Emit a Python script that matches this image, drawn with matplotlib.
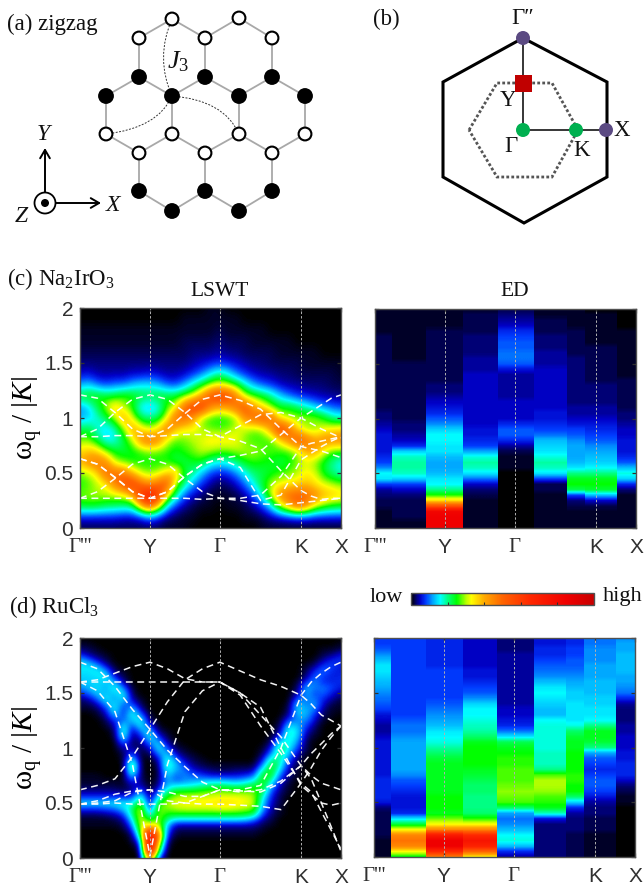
import numpy as np
import matplotlib
matplotlib.use("Agg")
import matplotlib.pyplot as plt
from matplotlib.colors import LinearSegmentedColormap, Normalize
from matplotlib.cm import ScalarMappable
from matplotlib.patches import Circle, Rectangle, Polygon, PathPatch
from matplotlib.path import Path

plt.rcParams['font.family'] = ['Liberation Sans', 'DejaVu Sans']
plt.rcParams['mathtext.fontset'] = 'custom'
plt.rcParams['mathtext.rm'] = 'Liberation Serif'
plt.rcParams['mathtext.it'] = 'Liberation Serif:italic'
plt.rcParams['mathtext.bf'] = 'Liberation Serif:bold'
SERIF = ['Liberation Serif', 'DejaVu Serif']

# ---------- chart data ----------
tick_pos = [0.0, 0.268, 0.536, 0.847, 1.0]
tick_txt = ["Γ'''", "Y", "Γ", "K", "X"]
y_ticks = [0, 0.5, 1, 1.5, 2]
y_txt = ["0", "0.5", "1", "1.5", "2"]

band_q = [0, .067, .134, .201, .268, .335, .402, .469, .536, .614, .692, .77, .847, .886, .925, .963, 1]
# Na2IrO3 dispersion curves
na_1 = [1.21, 1.18, 1.05, .9, .83, .9, 1.04, 1.17, 1.21, 1.16, 1.08, .9, .74, .72, .7, .67, .64]
na_2 = [.83, .9, 1.05, 1.17, 1.21, 1.17, 1.05, .9, .83, .93, 1.03, 1.05, 1.0, .95, .9, .86, .82]
na_3 = [.83, .83, .84, .84, .83, .84, .85, .85, .83, .79, .72, .52, .34, .29, .26, .27, .27]
na_4 = [.63, .58, .46, .33, .27, .33, .47, .58, .63, .55, .25, .3, .62, .68, .74, .79, .83]
na_5 = [.27, .33, .45, .58, .63, .58, .45, .33, .27, .27, .3, .47, .74, .77, .79, .81, .83]
na_6 = [.27, .27, .27, .27, .27, .27, .27, .26, .27, .25, .22, .21, .23, .24, .25, .26, .27]
na_7 = [.63, .58, .46, .33, .27, .33, .47, .58, .63, .66, .7, .85, 1.0, 1.06, 1.12, 1.18, 1.21]
na_bands = [na_1, na_2, na_3, na_4, na_5, na_6, na_7]
# RuCl3 dispersion curves
ru_1 = [1.78, 1.72, 1.56, 1.35, 1.17, .98, .83, .69, .62, .62, .66, 1.0, 1.48, 1.6, 1.68, 1.74, 1.78]
ru_2 = [1.6, 1.52, 1.33, .85, .02, .85, 1.33, 1.52, 1.6, 1.48, 1.2, .95, .68, .6, .42, .25, .08]
ru_3 = [.49, .49, .5, .49, .49, .49, .5, .49, .49, .48, .47, .44, .68, .82, .98, 1.1, 1.2]
ru_4 = [.62, .66, .72, .92, 1.17, 1.42, 1.62, 1.72, 1.78, 1.7, 1.62, 1.56, 1.48, 1.4, 1.3, 1.25, 1.2]
ru_5 = [.49, .52, .58, .61, .62, .52, .5, .56, .62, .6, .62, .7, .84, .95, 1.04, 1.13, 1.2]
ru_6 = [1.6, 1.6, 1.6, 1.6, 1.6, 1.6, 1.6, 1.6, 1.6, 1.5, 1.3, 1.1, .84, .75, .68, .65, .62]
ru_7 = [1.6, 1.62, 1.68, 1.74, 1.78, 1.72, 1.63, 1.6, 1.6, 1.5, 1.37, 1.0, .66, .58, .5, .48, .5]
ru_8 = [.49, .5, .52, .6, .62, .6, .56, .56, .62, .61, .6, .68, .84, .72, .5, .28, .06]
ru_bands = [ru_1, ru_2, ru_3, ru_4, ru_5, ru_6, ru_7, ru_8]

# LSWT intensity of Na2IrO3: one list per q (q=j/30), energies 0, 0.1, ... 2.0
na_lswt = [
 [2,6,24,28,25,28,40,35,28,22,12,11,24,12,5,3,2,1,1,0,0],
 [2,6,25,29,27,30,45,38,28,23,14,14,26,14,6,3,2,1,1,0,0],
 [2,6,24,30,30,36,48,36,22,17,17,22,26,10,4,3,2,1,1,0,0],
 [2,6,22,30,34,50,45,28,15,14,22,30,24,8,4,3,2,1,1,0,0],
 [2,6,21,31,45,50,30,24,16,17,30,38,24,10,4,3,2,1,1,0,0],
 [2,5,20,32,55,48,27,23,22,28,42,30,27,10,4,3,2,1,1,0,0],
 [2,5,20,40,60,38,25,24,30,42,32,25,26,13,5,3,2,1,1,0,0],
 [2,6,38,62,50,30,25,26,45,36,22,14,24,15,5,3,2,1,1,0,0],
 [2,10,50,75,42,28,25,28,50,30,20,12,23,15,6,3,2,1,1,0,0],
 [2,6,36,60,50,30,25,27,46,36,22,15,25,13,5,3,2,1,1,0,0],
 [1,3,15,35,55,36,25,26,32,48,32,26,24,9,4,3,2,1,1,0,0],
 [1,2,7,20,30,40,22,24,27,38,50,32,24,8,4,3,2,1,1,0,0],
 [1,1,4,9,20,24,22,26,28,33,50,50,28,12,5,3,2,2,1,1,0],
 [0,1,2,5,12,20,24,28,30,33,42,60,32,18,7,4,3,2,1,1,0],
 [0,0,1,3,7,13,24,31,32,30,28,60,42,24,10,5,3,2,1,1,0],
 [0,0,1,1,4,8,18,30,35,28,25,45,55,30,15,6,3,2,1,1,1],
 [0,0,0,1,2,6,16,28,35,27,24,40,60,33,20,7,4,3,2,1,1],
 [0,0,1,1,3,7,17,28,35,28,25,42,58,30,16,6,3,2,1,1,0],
 [0,0,1,2,5,11,20,30,33,32,28,50,45,26,10,5,3,2,1,1,0],
 [0,1,2,4,10,16,25,30,28,30,45,55,30,18,7,4,2,2,1,0,0],
 [0,1,4,9,17,21,26,30,26,28,50,42,27,12,5,3,2,1,1,0,0],
 [1,2,8,18,24,22,25,28,26,30,55,35,24,9,4,3,2,1,1,0,0],
 [1,4,15,32,30,24,24,27,26,42,50,28,20,7,4,2,2,1,0,0,0],
 [1,5,30,45,33,26,22,26,35,60,33,24,14,5,3,2,1,1,0,0,0],
 [1,6,40,50,34,28,24,26,45,50,30,25,10,4,3,2,1,1,0,0,0],
 [1,7,50,52,36,30,28,30,55,35,29,22,7,4,2,2,1,0,0,0,0],
 [1,7,45,50,38,34,32,40,50,28,30,18,6,3,2,1,1,0,0,0,0],
 [1,6,33,45,35,32,28,42,42,28,30,14,5,3,2,1,1,0,0,0,0],
 [1,6,28,40,32,24,24,33,45,32,26,11,4,3,2,1,0,0,0,0,0],
 [1,6,25,38,30,20,19,27,45,34,20,9,4,2,2,1,0,0,0,0,0],
 [1,6,24,36,28,17,16,26,46,36,18,8,3,2,1,1,0,0,0,0,0],
]
# LSWT intensity of RuCl3: one list per q (q=j/30), energies 0, 0.05, ...; trailing zeros omitted
ru_lswt = [
 [0,0,0,0,0,0,1,1,3,8,14,8,4,2,1,1,0,0,0,0,0,0,0,0,0,0,0,1,2,3,7,11,13,14,15,15,13,7,3,1,0],
 [0,0,0,0,0,0,1,1,3,8,14,8,4,2,1,1,0,0,0,0,0,0,0,0,0,0,0,1,2,5,10,13,14,14,15,15,10,4,2,1],
 [0,0,0,0,0,0,1,1,3,8,14,8,4,2,1,1,0,0,0,0,0,0,0,0,0,0,1,2,5,10,14,15,14,15,16,12,5,2,1],
 [0,0,0,0,0,0,1,1,4,9,14,8,4,2,1,0,0,0,0,0,0,0,0,0,1,2,4,7,12,16,13,12,14,16,12,5,2,1],
 [0,0,0,0,0,0,1,2,5,10,15,8,4,2,1,0,0,0,0,0,0,0,1,2,4,8,14,17,15,11,14,17,13,6,2,1],
 [0,0,0,0,0,1,2,4,8,14,16,8,3,1,1,0,0,0,1,2,5,11,18,20,17,10,7,6,10,16,16,10,4,2,1],
 [0,0,0,1,2,5,10,15,20,20,14,8,4,4,8,16,24,25,16,9,4,2,2,3,7,13,17,15,9,4,2,1],
 [0,1,4,10,20,28,33,34,33,33,28,20,12,6,3,2,1,1,1,1,2,3,6,11,16,17,11,5,2,1],
 [50,75,85,85,80,60,33,22,12,5,2,1,1,0,0,0,0,0,0,2,5,11,16,15,8,3,1],
 [8,20,30,40,48,40,33,30,29,28,24,16,9,4,2,1,1,2,5,11,16,14,8,3,1],
 [0,0,1,3,6,10,14,20,25,28,30,26,20,14,13,15,18,20,18,14,9,4,2,1],
 [0,0,0,0,1,2,5,15,25,30,32,30,25,17,9,9,12,13,10,5,2,1],
 [0,0,0,0,1,2,5,15,25,31,33,31,26,17,11,11,10,8,4,2,1],
 [0,0,0,0,1,2,5,15,25,31,33,32,26,18,12,9,6,3,2,1],
 [0,0,0,0,1,2,5,15,25,31,34,32,27,20,13,8,4,2,1],
 [0,0,0,0,1,2,5,15,25,31,34,32,28,22,14,6,3,1],
 [0,0,0,0,1,2,5,15,25,32,35,33,29,23,14,6,2,1],
 [0,0,0,0,1,2,5,15,25,32,35,33,28,22,13,6,2,1],
 [0,0,0,0,1,2,5,15,25,31,34,33,28,21,12,6,3,1],
 [0,0,0,0,1,2,5,14,24,30,33,32,28,22,14,7,3,1],
 [0,0,0,0,1,2,4,11,22,28,31,30,28,24,17,9,4,1],
 [0,0,0,0,0,1,2,4,8,12,14,17,22,25,26,25,18,10,5,2,1],
 [0,0,0,0,0,0,1,2,3,4,5,6,8,12,18,24,26,25,19,11,6,3,1],
 [0,0,0,0,0,0,0,0,1,1,2,2,3,4,6,9,14,18,20,22,22,16,9,4,2,1],
 [0,0,0,0,0,0,0,0,0,0,0,0,1,1,2,3,4,6,9,13,16,18,18,19,15,9,4,2,1],
 [0,0,0,0,0,0,0,0,0,0,0,0,0,0,0,1,1,2,3,5,8,11,14,15,13,11,13,15,14,9,4,2,1],
 [0,0,0,0,0,0,0,0,0,0,0,0,0,0,0,0,0,0,0,1,2,2,3,5,8,11,13,12,10,11,13,13,8,3,2,1],
 [0,0,0,0,0,0,0,0,0,0,0,0,0,0,0,0,0,0,0,0,0,0,1,2,3,5,7,11,12,10,8,10,11,10,7,3,1],
 [0,0,0,0,0,0,0,0,0,0,0,0,0,0,0,0,0,0,0,0,0,0,0,0,0,1,2,3,5,7,10,10,7,8,10,8,4,2,1],
 [0,0,0,0,0,0,0,0,0,0,0,0,0,0,0,0,0,0,0,0,0,0,0,0,0,0,1,1,2,4,6,8,7,6,7,8,7,3,1],
 [0,0,0,0,0,0,0,0,0,0,0,0,0,0,0,0,0,0,0,0,0,0,0,0,0,0,0,1,1,2,4,6,7,7,6,6,7,6,2,1],
]
# ED spectra: column q edges, one list per column, energies 0, 0.05, ... 2.0
na_ed_edges = [0, .064, .195, .339, .471, .611, .735, .803, .927, 1]
na_ed = [
 [1,1,1,1,2,2,3,4,8,15,16,11,8,7,6,6,6,6,5,4,3,3,2,2,2,2,2,2,2,2,2,2,2,2,2,2,1,1,1,1,1],
 [1,1,2,2,2,2,3,5,8,14,18,19,19,18,14,7,5,4,3,3,2,2,2,2,2,2,2,2,2,2,2,1,1,1,1,1,1,1,1,1,1],
 [85,85,85,82,55,36,26,20,16,15,13,12,12,13,15,15,16,16,14,11,9,7,6,5,4,3,3,2,2,2,2,2,2,2,2,2,2,1,1,1,1],
 [1,1,1,1,1,1,2,3,5,10,15,18,19,17,12,8,7,6,6,5,5,5,5,5,5,5,5,5,5,4,4,4,3,3,3,3,2,2,2,2,1],
 [0,0,0,0,0,0,0,0,0,0,0,1,1,1,2,4,7,9,9,7,5,5,5,5,4,4,4,4,4,6,9,10,10,9,9,8,7,5,4,3,2],
 [1,1,1,1,1,1,1,2,2,8,15,18,19,17,15,14,13,10,8,7,6,6,5,5,5,5,5,5,5,5,4,4,4,3,3,3,2,2,2,1,1],
 [1,1,1,1,2,3,8,22,25,24,20,15,13,12,12,12,11,9,8,6,5,4,4,3,3,3,3,3,3,3,3,3,2,2,2,2,2,1,1,1,1],
 [1,1,1,1,2,5,13,23,25,24,20,16,14,13,12,11,9,8,7,6,5,4,4,3,3,3,3,2,2,2,2,2,2,2,1,1,1,1,1,1,0],
 [1,1,1,1,1,1,1,3,7,14,17,13,9,7,6,6,6,5,5,4,3,3,2,2,2,2,2,2,1,1,1,1,1,1,1,1,1,0,0,0,0],
]
ru_ed_edges = [0, .066, .198, .341, .473, .614, .735, .806, .926, 1]
ru_ed = [
 [1,1,1,1,2,2,2,2,2,3,6,7,7,7,7,6,6,6,6,6,6,6,5,4,4,5,6,8,9,10,11,12,13,14,15,15,13,11,9,8,8],
 [24,33,45,48,45,33,23,15,7,6,6,6,7,8,9,11,12,12,12,12,12,12,11,10,10,9,8,8,8,8,8,8,8,8,8,8,8,8,8,8,8],
 [45,65,85,85,72,45,33,28,24,25,25,25,24,24,24,24,24,24,23,21,19,17,16,15,13,12,11,10,9,8,8,8,8,8,8,7,7,7,7,7,7],
 [33,50,68,75,65,45,33,26,21,20,20,20,21,21,22,23,24,25,25,25,25,24,21,19,18,17,16,16,14,11,9,8,7,6,6,5,5,5,5,5,5],
 [4,7,13,17,16,13,11,10,12,21,27,28,29,28,27,27,27,26,26,25,24,22,15,10,7,6,5,5,4,4,4,4,4,4,4,4,4,4,3,3,3],
 [3,3,3,3,3,3,3,6,18,24,26,27,29,30,30,27,20,18,18,18,17,17,17,17,17,16,13,13,14,15,16,15,13,11,10,9,8,7,7,6,6],
 [2,2,2,2,2,3,3,3,4,7,14,21,25,25,26,26,25,25,25,25,24,24,23,21,17,15,15,15,15,14,14,13,12,11,10,9,9,8,8,7,7],
 [1,1,1,1,1,2,2,2,3,3,4,6,8,9,9,8,7,8,9,12,20,23,24,24,20,16,15,15,14,14,13,13,13,12,12,12,11,11,11,10,10],
 [0,0,0,0,0,0,0,0,0,0,1,1,2,3,5,7,7,7,6,6,5,5,5,4,4,3,3,3,4,7,10,11,12,12,13,13,13,13,12,12,11],
]
# ---------- diagram contents ----------
open_sites = [(172,19),(239,18),(139,38),(205,38),(272,38),(106,134),(172,134),(239,134),(305,134),(139,153),(205,153),(272,153)]
full_sites = [(139,77),(205,77),(272,77),(106,96),(172,96),(239,96),(305,96),(139,191),(205,191),(272,191),(172,211),(239,211)]

# ---------- colour scale ----------
stops = [(0,'#000000'),(.02,'#000050'),(.05,'#0000c8'),(.08,'#003cff'),(.12,'#00aaff'),(.16,'#00ffff'),
         (.20,'#00ff82'),(.25,'#00ff00'),(.30,'#b4ff00'),(.33,'#ffff00'),(.40,'#ffaa00'),(.50,'#ff6400'),
         (.65,'#ff2800'),(.85,'#f00000'),(1,'#c80000')]
cmap = LinearSegmentedColormap.from_list('lowhigh', stops, N=512)
norm = Normalize(0, 100)

W, H = 644, 886
fig = plt.figure(figsize=(W/100, H/100), dpi=100)

def axes_px(x0, y0, x1, y1, **kw):
    return fig.add_axes([x0/W, 1-y1/H, (x1-x0)/W, (y1-y0)/H], **kw)

def finish(ax, left_labels):
    ax.set_xlim(0, 1); ax.set_ylim(0, 2)
    for q in tick_pos[1:4]:
        ax.axvline(q, color='#b0b0b0', lw=0.7, dashes=(2.5, 2))
    ax.set_xticks(tick_pos); ax.set_yticks(y_ticks)
    ax.set_xticklabels(tick_txt, fontsize=15, color='#303030')
    for lab in ax.get_xticklabels():
        if 'Γ' in lab.get_text():
            lab.set_family(SERIF)
    if left_labels:
        ax.set_yticklabels(y_txt, fontsize=15, color='#303030')
        ax.set_ylabel('ω$_{\\mathrm{q}}$ / |$\\mathit{K}$|', fontsize=21, family=SERIF, labelpad=0)
    else:
        ax.set_yticklabels([])
    ax.tick_params(axis='both', direction='in', length=3, width=0.9, color='#303030',
                   top=True, right=True)
    ax.tick_params(axis='x', pad=7)
    ax.tick_params(axis='y', pad=5)
    for s in ax.spines.values():
        s.set_color('#505050'); s.set_linewidth(1.0)
    ax.set_zorder(3)

def lswt(box, cols, dE, bands):
    ax = axes_px(*box)
    n = int(round(2/dE)) + 1
    grid = np.array([c + [0]*(n-len(c)) for c in cols], float).T
    ax.imshow(grid, origin='lower', aspect='auto', cmap=cmap, norm=norm, interpolation='bicubic',
              extent=[-1/60, 1+1/60, -dE/2, 2+dE/2])
    for b in bands:
        ax.plot(band_q, b, color='white', lw=1.1, dashes=(4.5, 3), alpha=0.95)
    finish(ax, True)
    return ax

def ed(box, edges, cols):
    ax = axes_px(*box)
    for i, c in enumerate(cols):
        ax.imshow(np.array(c, float)[:, None], origin='lower', aspect='auto', cmap=cmap, norm=norm,
                  interpolation='bilinear', extent=[edges[i], edges[i+1], -0.025, 2.025])
    finish(ax, False)
    return ax

lswt((80, 308, 341, 528), na_lswt, 0.1, na_bands)
ed((375, 309, 636, 528), na_ed_edges, na_ed)
lswt((80, 638, 341, 858), ru_lswt, 0.05, ru_bands)
ed((374, 638, 635, 857), ru_ed_edges, ru_ed)

# colour bar
cax = axes_px(411, 593, 594, 605)
cb = fig.colorbar(ScalarMappable(norm=norm, cmap=cmap), cax=cax, orientation='horizontal')
cb.set_ticks([20, 40, 60, 80]); cb.set_ticklabels([])
cax.tick_params(direction='in', length=2.5, width=0.8, color='#303030')
cb.outline.set_edgecolor('#505050'); cb.outline.set_linewidth(1)

# overlay in pixel coordinates for diagrams (a), (b) and the panel captions
ov = fig.add_axes([0, 0, 1, 1], zorder=5)
ov.set_xlim(0, W); ov.set_ylim(H, 0); ov.axis('off'); ov.patch.set_alpha(0)

def T(x, y, s, size=15, **kw):
    kw.setdefault('family', SERIF)
    kw.setdefault('va', 'center'); kw.setdefault('ha', 'left')
    ov.text(x, y, s, fontsize=size, color='#111111', **kw)

# (a) honeycomb lattice
sites = open_sites + full_sites
for i, (xa, ya) in enumerate(sites):
    for xb, yb in sites[i+1:]:
        if np.hypot(xa-xb, ya-yb) < 42:
            ov.plot([xa, xb], [ya, yb], color='#a8a8a8', lw=1.3, zorder=1)
for (x, y) in open_sites:
    ov.add_patch(Circle((x, y), 6.4, fc='white', ec='black', lw=1.5, zorder=3))
for (x, y) in full_sites:
    ov.add_patch(Circle((x, y), 7.2, fc='black', ec='black', zorder=3))
for p0, c, p1 in [((172, 19), (155, 58), (172, 96)),
                  ((172, 96), (158, 128), (106, 134)),
                  ((172, 96), (224, 100), (239, 134))]:
    ov.add_patch(PathPatch(Path([p0, c, p1], [Path.MOVETO, Path.CURVE3, Path.CURVE3]), fc='none',
                           ec='#333333', lw=0.7, ls=(0, (2, 1.5)), zorder=2))
T(167, 62, '$\\mathit{J}_{3}$', 19)
ov.add_patch(Circle((45, 203), 10.5, fc='white', ec='black', lw=1.3))
ov.add_patch(Circle((45, 203), 4, fc='black'))
ov.annotate('', xy=(45, 148), xytext=(45, 192), arrowprops=dict(arrowstyle='->,head_width=.35,head_length=.6', lw=1.4, color='black', shrinkA=0, shrinkB=0))
ov.annotate('', xy=(101, 203), xytext=(56, 203), arrowprops=dict(arrowstyle='->,head_width=.35,head_length=.6', lw=1.4, color='black', shrinkA=0, shrinkB=0))
T(43, 134, 'Y', 17, style='italic', ha='center')
T(113, 205, 'X', 17, style='italic', ha='center')
T(21, 216, 'Z', 17, style='italic', ha='center')
T(7, 24, '(a) zigzag', 16.5)

# (b) Brillouin zones
ov.add_patch(Polygon([(523, 38), (607, 82), (607, 177), (524, 223), (443, 177), (443, 82)], closed=True,
                     fc='none', ec='black', lw=2.2, zorder=1))
ov.add_patch(Polygon([(469, 130), (497, 83), (552, 83), (578, 130), (552, 177), (497, 177)], closed=True,
                     fc='none', ec='#555555', lw=2.0, ls=(0, (1, 0.8)), zorder=1))
ov.plot([523, 523, 606], [38, 130, 130], color='black', lw=1.1, zorder=2)
for x, y in [(523, 38), (606, 130)]:
    ov.add_patch(Circle((x, y), 7, fc='#5b4a82', ec='none', zorder=4))
for x, y in [(523, 130), (576, 130)]:
    ov.add_patch(Circle((x, y), 7, fc='#00b050', ec='none', zorder=4))
ov.add_patch(Rectangle((515, 75), 17, 17, fc='#c00000', ec='none', zorder=4))
T(523, 18, 'Γ″', 16.5, ha='center')
T(508, 100, 'Y', 16.5, ha='center')
T(511, 146, 'Γ', 16.5, ha='center')
T(582, 150, 'K', 16.5, ha='center')
T(622, 130, 'X', 16.5, ha='center')
T(373, 19, '(b)', 16.5)

T(7, 279, '(c) Na$_{2}$IrO$_{3}$', 16.5)
T(220, 292, 'LSWT', 15.5, ha='center')
T(515, 292, 'ED', 15.5, ha='center')
T(9, 607, '(d) RuCl$_{3}$', 16.5)
T(370, 597, 'low', 16)
T(603, 597, 'high', 16)

fig.savefig('out.png', dpi=100)
